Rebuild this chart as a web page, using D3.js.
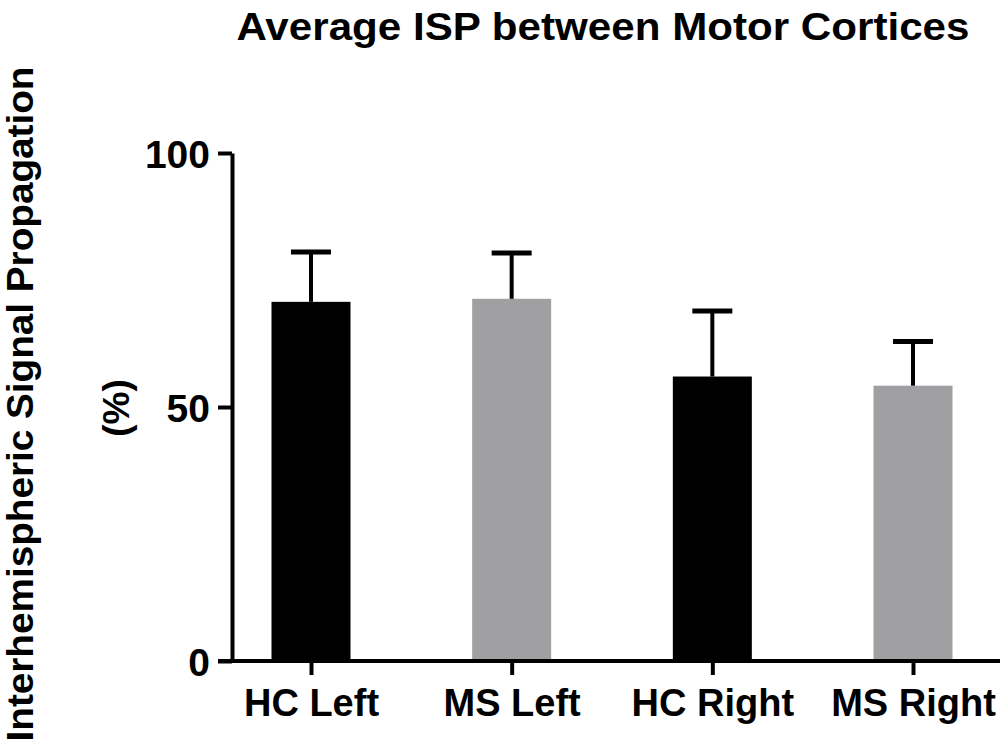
<!DOCTYPE html>
<html>
<head>
<meta charset="utf-8">
<script src="https://cdn.jsdelivr.net/npm/d3@7"></script>
<style>
  body { margin: 0; background: #fff; }
  text { font-family: "Liberation Sans", Arial, sans-serif; font-weight: bold; fill: #000; }
</style>
</head>
<body>
<div id="chart"></div>
<script>
// data
var groups = ["HC Left", "MS Left", "HC Right", "MS Right"];
var means = [70.7, 71.3, 56.0, 54.2];
var errors = [9.8, 9.0, 12.9, 8.7];
var colors = ["#000000", "#a0a0a2", "#000000", "#a0a0a2"];
var yTicks = [0, 50, 100];

var width = 1000, height = 746;

var svg = d3.select("#chart").append("svg")
  .attr("width", width).attr("height", height);

var y = d3.scaleLinear().domain([0, 100]).range([661, 153]);
var x = d3.scalePoint().domain(groups).range([311, 913]);
var barW = 79, capW = 40;

// bars
svg.selectAll("rect.bar").data(groups).enter().append("rect")
  .attr("class", "bar")
  .attr("x", function (d) { return x(d) - barW / 2; })
  .attr("y", function (d, i) { return y(means[i]); })
  .attr("width", barW)
  .attr("height", function (d, i) { return y(0) - y(means[i]); })
  .style("fill", function (d, i) { return colors[i]; });

// error bars (upper only)
svg.selectAll("line.stem").data(groups).enter().append("line")
  .attr("x1", function (d) { return x(d); })
  .attr("x2", function (d) { return x(d); })
  .attr("y1", function (d, i) { return y(means[i]); })
  .attr("y2", function (d, i) { return y(means[i] + errors[i]); })
  .attr("stroke", "#000").attr("stroke-width", 4);
svg.selectAll("line.cap").data(groups).enter().append("line")
  .attr("x1", function (d) { return x(d) - capW / 2; })
  .attr("x2", function (d) { return x(d) + capW / 2; })
  .attr("y1", function (d, i) { return y(means[i] + errors[i]); })
  .attr("y2", function (d, i) { return y(means[i] + errors[i]); })
  .attr("stroke", "#000").attr("stroke-width", 5);

// y axis
var yAxis = svg.append("g").attr("transform", "translate(232,0)")
  .call(d3.axisLeft(y).tickValues(yTicks).tickSize(14).tickSizeOuter(0).tickPadding(8));
yAxis.select(".domain").attr("stroke-width", 4);
yAxis.selectAll(".tick line").attr("stroke-width", 4);
yAxis.selectAll(".tick text").style("font-size", "39px")
  .attr("dy", "0.36em");

// x axis
var xAxis = svg.append("g").attr("transform", "translate(0,661)")
  .call(d3.axisBottom(x).tickSize(14).tickSizeOuter(0).tickPadding(14));
xAxis.select(".domain").attr("d", "M218,0H1000").attr("stroke-width", 4);
xAxis.selectAll(".tick line").attr("stroke-width", 4);
xAxis.selectAll(".tick text").style("font-size", "38px");

// title
svg.append("text")
  .attr("x", 603).attr("y", 40)
  .attr("text-anchor", "middle")
  .attr("textLength", 733).attr("lengthAdjust", "spacingAndGlyphs")
  .style("font-size", "39px")
  .text("Average ISP between Motor Cortices");

// y axis title
svg.append("text")
  .attr("transform", "translate(33,404) rotate(-90)")
  .attr("text-anchor", "middle")
  .attr("textLength", 675).attr("lengthAdjust", "spacingAndGlyphs")
  .style("font-size", "37px")
  .text("Interhemispheric Signal Propagation");
svg.append("text")
  .attr("transform", "translate(129,408) rotate(-90)")
  .attr("text-anchor", "middle")
  .style("font-size", "37px")
  .text("(%)");
</script>
</body>
</html>
